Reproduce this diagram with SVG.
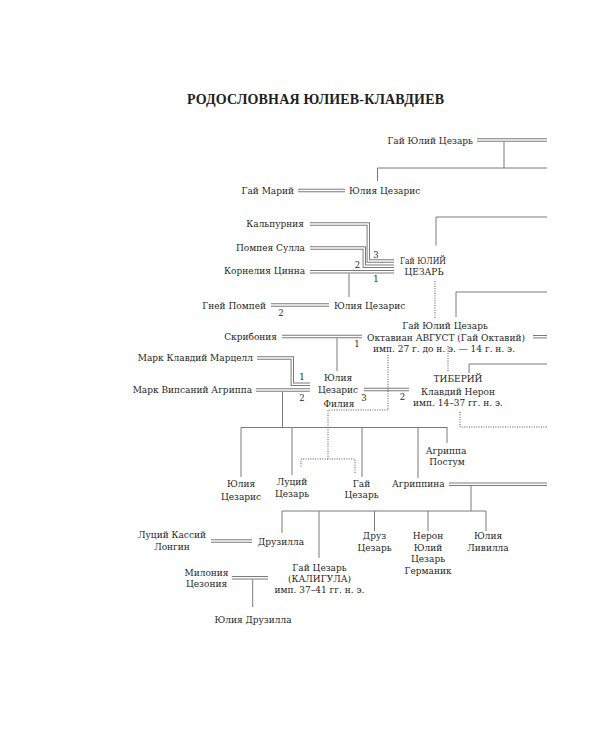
<svg xmlns="http://www.w3.org/2000/svg" xmlns:xlink="http://www.w3.org/1999/xlink" width="600" height="750" viewBox="0 0 600 750">
<style>
text{font-family:"DejaVu Serif","Liberation Serif",serif;font-size:9px;fill:#262626}
.t{font-family:"Liberation Serif",serif;font-weight:bold;font-size:14px;fill:#1e1e1e}
.m{text-anchor:middle}
.e{text-anchor:end}
.n{font-size:8.5px}
.o{fill:none;stroke:#7a7a7a;stroke-width:3.4}
.i{fill:none;stroke:#fff;stroke-width:1.4}
.s{fill:none;stroke:#7a7a7a;stroke-width:1}
.d{fill:none;stroke:#555;stroke-width:1;stroke-dasharray:1 1.4}
</style>
<defs>
<path id="d1" d="M477 140H547"/>
<path id="d2" d="M298 190.5H345"/>
<path id="d3" d="M310 224H368.3V261H394"/>
<path id="d4" d="M310 248H364.3V266.3H394"/>
<path id="d5" d="M310 271.8H394"/>
<path id="d6" d="M271 305H329"/>
<path id="d7" d="M282 336.5H362"/>
<path id="d8" d="M533 336.7H547"/>
<path id="d9" d="M257 358H292.3V384.2H310"/>
<path id="d10" d="M256 390H310"/>
<path id="d11" d="M364 389.5H409"/>
<path id="d12" d="M449 484.3H547"/>
<path id="d13" d="M211 541H252"/>
<path id="d14" d="M232 577.7H268"/>
</defs>
<rect width="600" height="750" fill="#fff"/>
<text class="t" x="187" y="104" textLength="257" lengthAdjust="spacing">РОДОСЛОВНАЯ ЮЛИЕВ-КЛАВДИЕВ</text>
<g id="connectors">
<use xlink:href="#d1" class="o"/><use xlink:href="#d2" class="o"/><use xlink:href="#d3" class="o"/><use xlink:href="#d4" class="o"/><use xlink:href="#d5" class="o"/><use xlink:href="#d6" class="o"/><use xlink:href="#d7" class="o"/><use xlink:href="#d8" class="o"/><use xlink:href="#d9" class="o"/><use xlink:href="#d10" class="o"/><use xlink:href="#d11" class="o"/><use xlink:href="#d12" class="o"/><use xlink:href="#d13" class="o"/><use xlink:href="#d14" class="o"/>
<use xlink:href="#d1" class="i"/><use xlink:href="#d2" class="i"/><use xlink:href="#d3" class="i"/><use xlink:href="#d4" class="i"/><use xlink:href="#d5" class="i"/><use xlink:href="#d6" class="i"/><use xlink:href="#d7" class="i"/><use xlink:href="#d8" class="i"/><use xlink:href="#d9" class="i"/><use xlink:href="#d10" class="i"/><use xlink:href="#d11" class="i"/><use xlink:href="#d12" class="i"/><use xlink:href="#d13" class="i"/><use xlink:href="#d14" class="i"/>
<path class="s" d="M504 141.7V168M377.5 168H547M377.5 168V181"/>
<path class="s" d="M436 217H547M436 217V245.5"/>
<path class="s" d="M349 273.5V297"/>
<path class="s" d="M456 292H547M456 292V317"/>
<path class="s" d="M337 338.2V371"/>
<path class="s" d="M469 364H547M469 364V373"/>
<path class="s" d="M282.5 391.7V427.5M241 427.5H447.5M241 427.5V477M292 427.5V475M362 427.5V477M418 427.5V478M447 427.5V443"/>
<path class="s" d="M471 486V511M282 511H486M282 511V533M319 511V558M374.5 511V531M428 511V531M486 511V531"/>
<path class="s" d="M252.7 579.4V607"/>
<path class="d" d="M435 281V318"/>
<path class="d" d="M388 355V410H328V459M301 466.5V459H355V474"/>
<path class="d" d="M448 346V372"/>
<path class="d" d="M460 412V427H547"/>
</g>
<g id="labels">
<text class="m n" x="376" y="257.5">3</text>
<text class="m n" x="357.5" y="268">2</text>
<text class="m n" x="376" y="281.5">1</text>
<text class="m n" x="281" y="315.5">2</text>
<text class="m n" x="357" y="347">1</text>
<text class="m n" x="302" y="380">1</text>
<text class="m n" x="302" y="401">2</text>
<text class="m n" x="364" y="401">3</text>
<text class="m n" x="402.5" y="400">2</text>
</g>
<g id="gaius-julius-caesar-sr"><text class="e" x="473" y="143.5">Гай Юлий Цезарь</text></g>
<g id="gaius-marius"><text class="e" x="294" y="194">Гай Марий</text></g>
<g id="julia-caesaris-marius"><text x="349" y="194">Юлия Цезарис</text></g>
<g id="calpurnia"><text class="e" x="304" y="226.5">Кальпурния</text></g>
<g id="pompeia"><text class="e" x="305" y="250.5">Помпея Сулла</text></g>
<g id="cornelia"><text class="e" x="305" y="274">Корнелия Цинна</text></g>
<g id="caesar"><text x="400" y="263.5" textLength="46" lengthAdjust="spacingAndGlyphs">Гай ЮЛИЙ</text><text class="m" x="424" y="274.5">ЦЕЗАРЬ</text></g>
<g id="pompey"><text class="e" x="266" y="308.5">Гней Помпей</text></g>
<g id="julia-pompey"><text x="334" y="308.5">Юлия Цезарис</text></g>
<g id="scribonia"><text class="e" x="277" y="340">Скрибония</text></g>
<g id="augustus"><text class="m" x="445" y="329">Гай Юлий Цезарь</text><text class="m" x="446" y="340.5">Октавиан АВГУСТ (Гай Октавий)</text><text class="m" x="444" y="352">имп. 27 г. до н. э. — 14 г. н. э.</text></g>
<g id="marcellus"><text class="e" x="253" y="361">Марк Клавдий Марцелл</text></g>
<g id="agrippa"><text class="e" x="252" y="393">Марк Випсаний Агриппа</text></g>
<g id="julia-elder"><text class="m" x="338" y="380.5">Юлия</text><text class="m" x="338" y="393">Цезарис</text><text class="m" x="339" y="406.5">Филия</text></g>
<g id="tiberius"><text class="m" x="458" y="381.5">ТИБЕРИЙ</text><text class="m" x="458" y="395">Клавдий Нерон</text><text class="m" x="458" y="406">имп. 14–37 гг. н. э.</text></g>
<g id="julia-younger"><text class="m" x="241" y="487">Юлия</text><text class="m" x="241" y="499.5">Цезарис</text></g>
<g id="lucius"><text class="m" x="292" y="485">Луций</text><text class="m" x="292" y="496.5">Цезарь</text></g>
<g id="gaius"><text class="m" x="361.5" y="487">Гай</text><text class="m" x="361.5" y="498">Цезарь</text></g>
<g id="agrippina"><text x="392" y="487">Агриппина</text></g>
<g id="agrippa-postumus"><text class="m" x="446" y="453.5">Агриппа</text><text class="m" x="447" y="465">Постум</text></g>
<g id="longinus"><text class="m" x="172" y="538">Луций Кассий</text><text class="m" x="172" y="550">Лонгин</text></g>
<g id="drusilla"><text x="258" y="545">Друзилла</text></g>
<g id="drusus"><text class="m" x="374.5" y="539">Друз</text><text class="m" x="374.5" y="550.5">Цезарь</text></g>
<g id="nero"><text class="m" x="428" y="539">Нерон</text><text class="m" x="428" y="550.5">Юлий</text><text class="m" x="428" y="562">Цезарь</text><text class="m" x="428" y="573.5">Германик</text></g>
<g id="livilla"><text class="m" x="488" y="539">Юлия</text><text class="m" x="488" y="550.5">Ливилла</text></g>
<g id="caligula"><text class="m" x="319.5" y="570.5">Гай Цезарь</text><text class="m" x="319.5" y="582">(КАЛИГУЛА)</text><text class="m" x="319.5" y="592.5">имп. 37–41 гг. н. э.</text></g>
<g id="milonia"><text class="m" x="206.5" y="575.5">Милония</text><text class="m" x="206.5" y="587">Цезония</text></g>
<g id="julia-drusilla"><text class="m" x="253" y="622.5">Юлия Друзилла</text></g>
</svg>
